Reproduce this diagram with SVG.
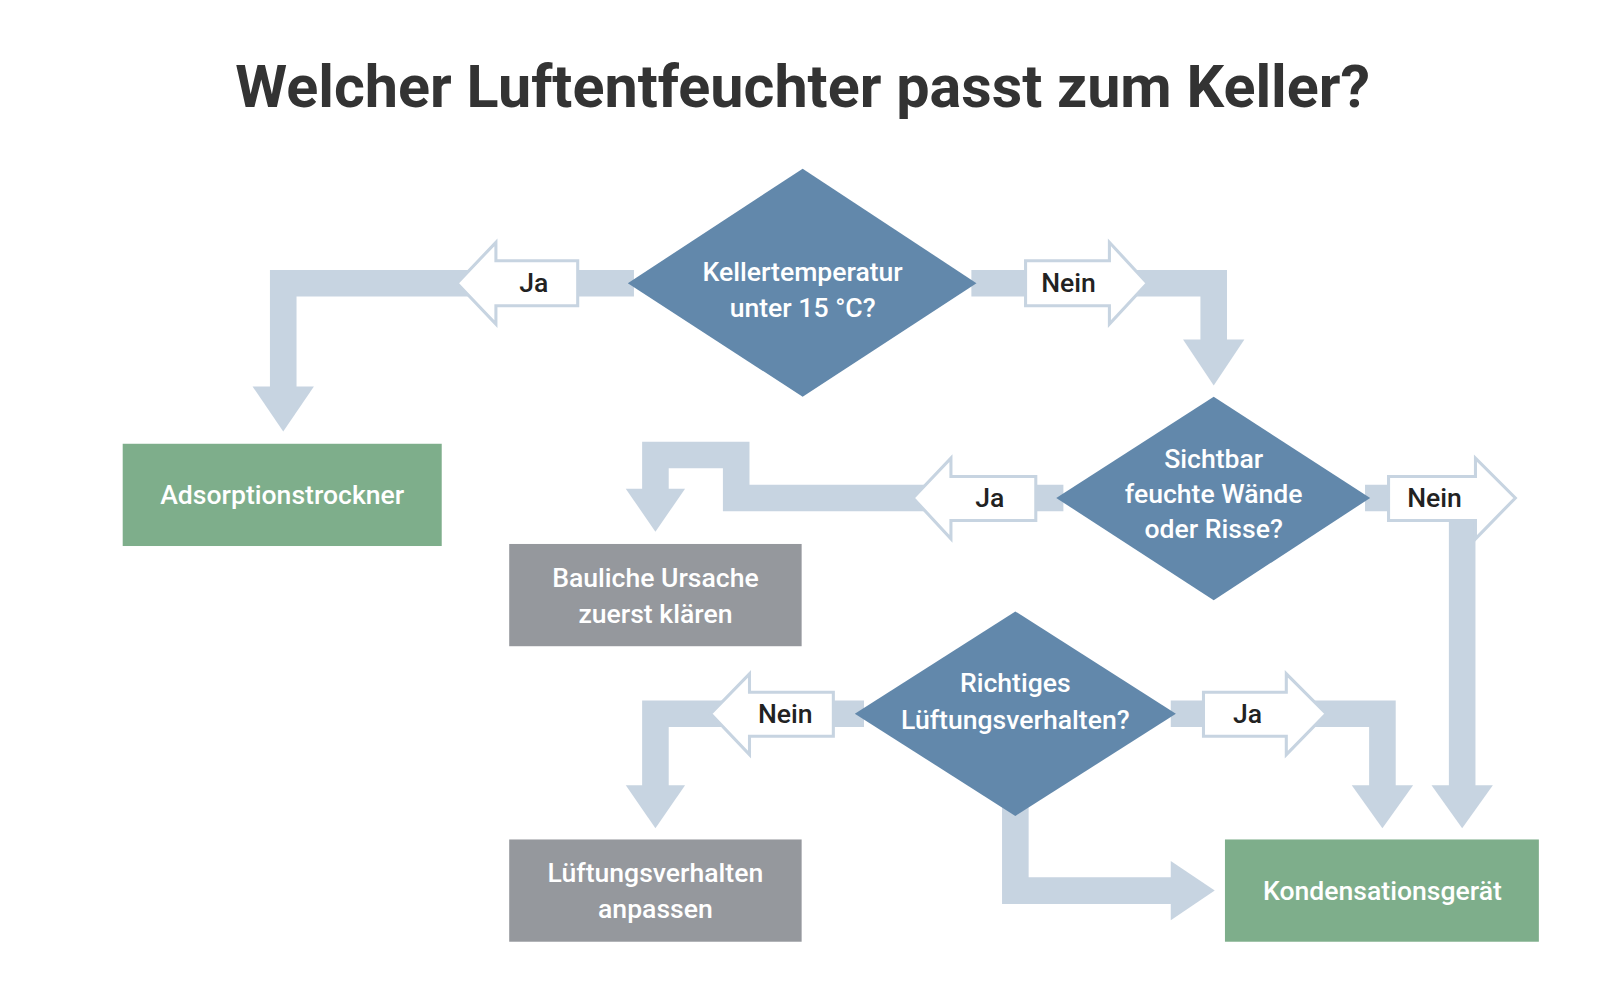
<svg xmlns="http://www.w3.org/2000/svg" width="1600" height="1000" viewBox="0 0 1600 1000">
<style>
.band{fill:none;stroke:#c7d4e1;stroke-width:26;stroke-linejoin:miter}
.head{fill:#c7d4e1}
.lab{fill:#fff;stroke:#c7d4e1;stroke-width:3}
.lt{font-family:Roboto,"Liberation Sans",sans-serif;font-size:26px;font-weight:500;fill:#222;text-anchor:middle}
.nt{font-family:Roboto,"Liberation Sans",sans-serif;font-size:26px;font-weight:500;fill:#fff;text-anchor:middle}
.dia{fill:#6288ab}
.green{fill:#7eae8b}
.grey{fill:#95989d}
</style>
<rect width="1600" height="1000" fill="#fff"/>
<g transform="scale(1.0225)">
<text x="785" y="105" font-family="Roboto,'Liberation Sans',sans-serif" font-size="58" font-weight="700" fill="#333" text-anchor="middle">Welcher Luftentfeuchter passt zum Keller?</text>
<g id="connectors">
<path class="band" d="M620 277 H277 V380"/><polygon class="head" points="247,378 307,378 277,422"/>
<polygon class="lab" points="565,255 485,255 485,237 447,277 485,317 485,299 565,299"/><text class="lt" x="522" y="286">Ja</text>
<path class="band" d="M950 277 H1187 V335"/><polygon class="head" points="1157,332 1217,332 1187,377"/>
<polygon class="lab" points="1003,255 1085,255 1085,237 1122,277 1085,317 1085,299 1003,299"/><text class="lt" x="1045" y="286">Nein</text>
<path class="band" d="M1040 487 H720 V445 H641 V480"/><polygon class="head" points="612,478 670,478 641,520"/>
<polygon class="lab" points="1013,466 930,466 930,448 893,487 930,527 930,509 1013,509"/><text class="lt" x="968" y="496">Ja</text>
<path class="band" d="M1335 487 H1430 V770"/><polygon class="head" points="1400,768 1460,768 1430,810"/>
<polygon class="lab" points="1358,466 1443,466 1443,448 1482,487 1443,527 1443,509 1358,509"/><text class="lt" x="1403" y="496">Nein</text>
<path class="band" d="M845 698 H641 V770"/><polygon class="head" points="612,768 670,768 641,810"/>
<polygon class="lab" points="815,677 733,677 733,659 695,698 733,738 733,720 815,720"/><text class="lt" x="768" y="707">Nein</text>
<path class="band" d="M1145 698 H1352 V770"/><polygon class="head" points="1322,768 1382,768 1352,810"/>
<polygon class="lab" points="1177,677 1258,677 1258,659 1297,698 1258,738 1258,720 1177,720"/><text class="lt" x="1220" y="707">Ja</text>
<path class="band" d="M993 785 V871 H1150"/><polygon class="head" points="1145,842 1145,900 1188,871"/>
</g>
<g id="d1"><polygon class="dia" points="785,165 955,277 785,388 614,277"/><text class="nt" x="785" y="275">Kellertemperatur</text><text class="nt" x="785" y="310">unter 15 °C?</text></g>
<g id="d2"><polygon class="dia" points="1187,388 1340,487 1187,587 1033,487"/><text class="nt" x="1187" y="458">Sichtbar</text><text class="nt" x="1187" y="492">feuchte Wände</text><text class="nt" x="1187" y="526">oder Risse?</text></g>
<g id="d3"><polygon class="dia" points="993,598 1150,698 993,798 836,698"/><text class="nt" x="993" y="677">Richtiges</text><text class="nt" x="993" y="713">Lüftungsverhalten?</text></g>
<g id="n1"><rect class="green" x="120" y="434" width="312" height="100"/><text class="nt" x="276" y="493">Adsorptionstrockner</text></g>
<g id="n2"><rect class="grey" x="498" y="532" width="286" height="100"/><text class="nt" x="641" y="574">Bauliche Ursache</text><text class="nt" x="641" y="609">zuerst klären</text></g>
<g id="n3"><rect class="grey" x="498" y="821" width="286" height="100"/><text class="nt" x="641" y="863">Lüftungsverhalten</text><text class="nt" x="641" y="898">anpassen</text></g>
<g id="n4"><rect class="green" x="1198" y="821" width="307" height="100"/><text class="nt" x="1352" y="880">Kondensationsgerät</text></g>
</g>
</svg>
